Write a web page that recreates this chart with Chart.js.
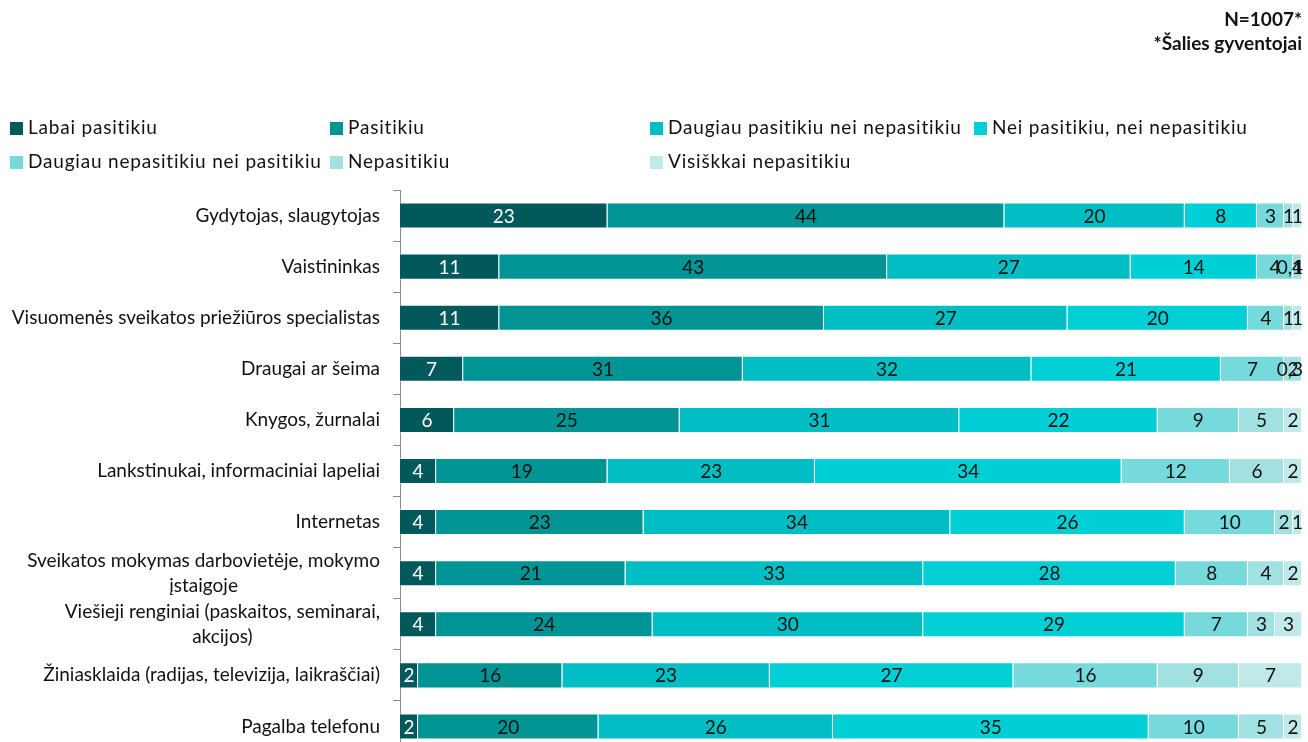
<!DOCTYPE html>
<html>
<head>
<meta charset="utf-8">
<script src="https://cdn.jsdelivr.net/npm/chart.js@4"></script>
<style>
  html, body { margin: 0; padding: 0; background: #fff; overflow: hidden; }
  #wrap { position: relative; width: 1308px; height: 752px; }
</style>
</head>
<body>
<div id="wrap"><canvas id="chart"></canvas></div>
<script>
// Categories (y axis), multi-line where the original wraps
const categories = [
  ['Gydytojas, slaugytojas'],
  ['Vaistininkas'],
  ['Visuomenės sveikatos priežiūros specialistas'],
  ['Draugai ar šeima'],
  ['Knygos, žurnalai'],
  ['Lankstinukai, informaciniai lapeliai'],
  ['Internetas'],
  ['Sveikatos mokymas darbovietėje, mokymo', 'įstaigoje'],
  ['Viešieji renginiai (paskaitos, seminarai,', 'akcijos)'],
  ['Žiniasklaida (radijas, televizija, laikraščiai)'],
  ['Pagalba telefonu']
];

const seriesNames = [
  'Labai pasitikiu',
  'Pasitikiu',
  'Daugiau pasitikiu nei nepasitikiu',
  'Nei pasitikiu, nei nepasitikiu',
  'Daugiau nepasitikiu nei pasitikiu',
  'Nepasitikiu',
  'Visiškkai nepasitikiu'
];

// Values in %, one array per answer
const labaiPasitikiu = [23, 11, 11, 7, 6, 4, 4, 4, 4, 2, 2];
const pasitikiu = [44, 43, 36, 31, 25, 19, 23, 21, 24, 16, 20];
const daugiauPasitikiu = [20, 27, 27, 32, 31, 23, 34, 33, 30, 23, 26];
const neiPasitikiu = [8, 14, 20, 21, 22, 34, 26, 28, 29, 27, 35];
const daugiauNepasitikiu = [3, 4, 4, 7, 9, 12, 10, 8, 7, 16, 10];
const nepasitikiu = [1, 1, 1, 2, 5, 6, 2, 4, 3, 9, 5];
const visiskaiNepasitikiu = [1, 0.4, 1, 0.3, 2, 2, 1, 2, 3, 7, 2];

const seriesValues = [labaiPasitikiu, pasitikiu, daugiauPasitikiu, neiPasitikiu,
  daugiauNepasitikiu, nepasitikiu, visiskaiNepasitikiu];

const colors = ['#02595c', '#009494', '#00bec3', '#00cfd6', '#76d9db', '#a2e1e2', '#c0e9ea'];

const FONT = 'Lato, "Open Sans", sans-serif';

// Legend drawn in a fixed grid like the original
const legendCols = [8, 328, 648, 972];
const legendRows = [128, 162];

const customDraw = {
  id: 'customDraw',
  afterDatasetsDraw(chart) {
    const ctx = chart.ctx;
    const area = chart.chartArea;
    ctx.save();
    ctx.font = '19px ' + FONT;
    ctx.textBaseline = 'middle';
    ctx.textAlign = 'center';
    chart.data.datasets.forEach((ds, di) => {
      const meta = chart.getDatasetMeta(di);
      meta.data.forEach((bar, i) => {
        const v = ds.data[i];
        const txt = String(v).replace('.', ',');
        const w = ctx.measureText(txt).width;
        let x = (bar.x + bar.base) / 2;
        if (x + w / 2 > area.right + 1) x = area.right + 1 - w / 2;
        ctx.fillStyle = di === 0 ? '#ffffff' : '#111111';
        ctx.fillText(txt, x, bar.y + 1);
      });
    });
    ctx.restore();
  },
  afterDraw(chart) {
    const ctx = chart.ctx;
    ctx.save();
    // category labels: block right aligned, lines centred on each other
    const y = chart.scales.y;
    ctx.font = '19px ' + FONT;
    ctx.fillStyle = '#111111';
    ctx.textBaseline = 'middle';
    ctx.textAlign = 'center';
    categories.forEach((lines, i) => {
      const cy = y.getPixelForValue(i);
      const widths = lines.map(l => ctx.measureText(l).width);
      const maxW = Math.max(...widths);
      const cx = y.right - 20 - maxW / 2;
      const lh = 25;
      lines.forEach((l, k) => {
        ctx.fillText(l, cx, cy + (k - (lines.length - 1) / 2) * lh);
      });
    });
    // legend
    ctx.font = '19px ' + FONT;
    ctx.letterSpacing = '0.8px';
    ctx.textAlign = 'left';
    chart.data.datasets.forEach((ds, di) => {
      const col = di < 4 ? di : di - 4;
      const row = di < 4 ? 0 : 1;
      const lx = legendCols[col];
      const ly = legendRows[row];
      ctx.fillStyle = ds.backgroundColor;
      ctx.fillRect(lx + 2, ly - 6, 13, 13);
      ctx.fillStyle = '#111111';
      ctx.fillText(ds.label, lx + 20, ly);
    });
    ctx.restore();
  }
};

new Chart(document.getElementById('chart'), {
  type: 'bar',
  data: {
    labels: categories.map(c => c.join(' ')),
    datasets: seriesNames.map((name, i) => ({
      label: name,
      data: seriesValues[i],
      backgroundColor: colors[i],
      borderColor: 'rgba(255,255,255,0.45)',
      borderWidth: 1,
      barPercentage: 0.51,
      categoryPercentage: 1
    }))
  },
  options: {
    indexAxis: 'y',
    responsive: true,
    maintainAspectRatio: false,
    animation: false,
    layout: { padding: { left: 0, right: 6, top: 0, bottom: 0 } },
    scales: {
      x: {
        stacked: true,
        min: 0,
        max: 100,
        display: false
      },
      y: {
        stacked: true,
        afterFit(scale) { scale.width = 400; },
        ticks: { display: false },
        grid: {
          drawOnChartArea: false,
          drawTicks: true,
          tickLength: 7,
          color: '#8c8c8c',
          offset: true
        },
        border: { color: '#8c8c8c', width: 1 }
      }
    },
    plugins: {
      legend: { display: false },
      tooltip: { enabled: false },
      title: {
        display: true,
        align: 'end',
        text: ['N=1007*', '*Šalies gyventojai'],
        color: '#111111',
        font: { family: FONT, size: 19, weight: 'bold', lineHeight: 24 / 19 },
        padding: { top: 8, bottom: 134 }
      }
    }
  },
  plugins: [customDraw]
});
</script>
</body>
</html>
